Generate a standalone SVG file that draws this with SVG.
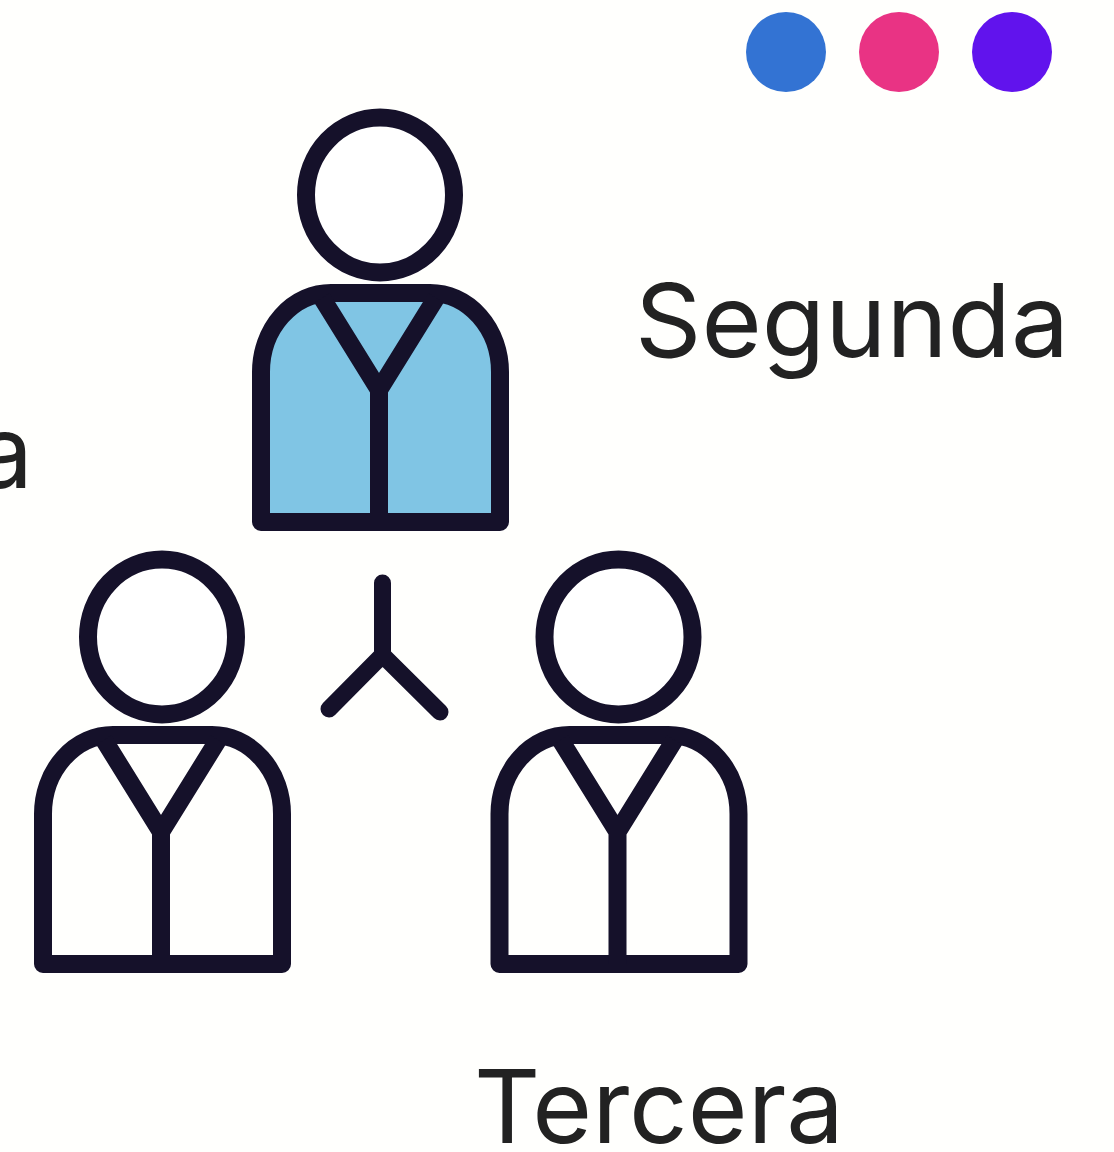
<svg xmlns="http://www.w3.org/2000/svg" width="1114" height="1152" viewBox="0 0 1114 1152">
<defs>
<style>
.s{fill:none;stroke:#15112a;stroke-width:18;stroke-linejoin:round;stroke-linecap:round}
.h{fill:#fff;stroke:#15112a;stroke-width:18}
.t{font-family:"Inter","Noto Sans",sans-serif;font-weight:400;font-size:102px;fill:#222222}
</style>
<g id="person">
<ellipse class="h" cx="380" cy="195" rx="74" ry="77.500"/>
<path class="s" d="M261 522V372A70 79 0 0 1 331 293H430A70 79 0 0 1 500 372V522Z"/>
<path class="s" style="stroke-linecap:butt;stroke-linejoin:miter" d="M322 298L379 390L436 298M379 390V522"/>
</g>
</defs>
<rect width="1114" height="1152" fill="#fffffd"/>
<g id="dots">
<circle cx="786" cy="52" r="40" fill="#3373d3"/>
<circle cx="899" cy="52" r="40" fill="#e93384"/>
<circle cx="1012" cy="52" r="40" fill="#6113ed"/>
</g>
<g id="top-person">
<path fill="#80c5e4" d="M261 522V372A70 79 0 0 1 331 293H430A70 79 0 0 1 500 372V522Z"/>
<use href="#person"/>
</g>
<g id="left-person"><use href="#person" x="-218" y="442"/></g>
<g id="right-person"><use href="#person" x="238.500" y="442"/></g>
<g id="connectors">
<path class="s" style="stroke-width:17" d="M382.500 583V655L329 709M382.500 655L440 712"/>
</g>
<g id="labels">
<text class="t" x="635" y="357" textLength="434" lengthAdjust="spacingAndGlyphs">Segunda</text>
<text class="t" x="474" y="1143" textLength="370" lengthAdjust="spacingAndGlyphs">Tercera</text>
<text class="t" x="33" y="488" text-anchor="end">a</text>
</g>
</svg>
